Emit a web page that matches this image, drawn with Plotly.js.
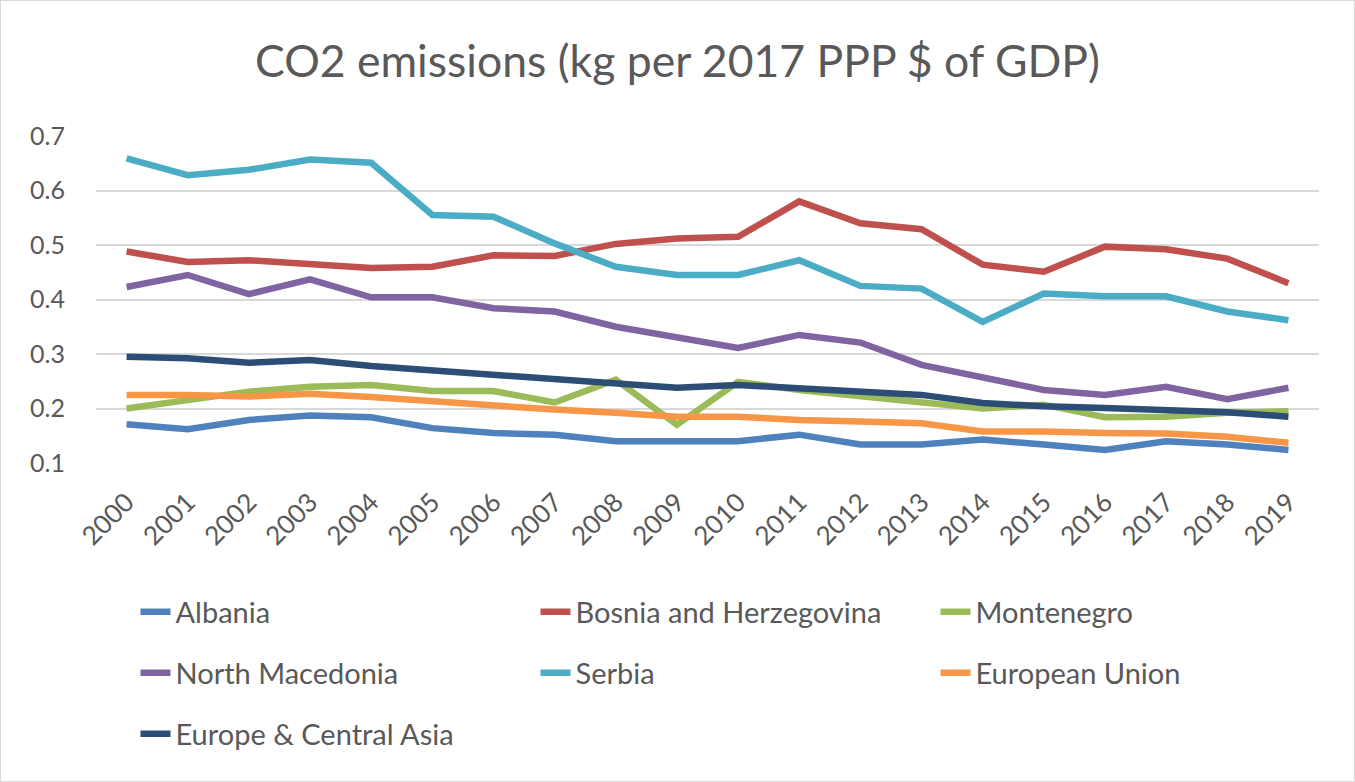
<!DOCTYPE html>
<html>
<head>
<meta charset="utf-8">
<script src="https://cdn.plot.ly/plotly-3.0.1.min.js"></script>
<style>
  body { margin: 0; padding: 0; background: #fff; }
  #wrap { position: relative; width: 1355px; height: 782px; }
  #chart { width: 1355px; height: 782px; }
  #frame { position: absolute; left: 0; top: 0; width: 1355px; height: 782px; box-sizing: border-box; border: 1px solid #d9d9d9; pointer-events: none; }
</style>
</head>
<body>
<div id="wrap"><div id="chart"></div><div id="frame"></div></div>
<script>
const years = ["2000","2001","2002","2003","2004","2005","2006","2007","2008","2009","2010","2011","2012","2013","2014","2015","2016","2017","2018","2019"];

const albania = [0.171,0.162,0.179,0.187,0.184,0.164,0.155,0.152,0.140,0.140,0.140,0.152,0.134,0.134,0.143,0.134,0.124,0.140,0.134,0.124];
const bosnia = [0.488,0.469,0.472,0.466,0.458,0.460,0.481,0.480,0.502,0.512,0.515,0.580,0.540,0.529,0.464,0.451,0.497,0.492,0.475,0.430];
const montenegro = [0.200,0.216,0.231,0.240,0.243,0.232,0.232,0.211,0.253,0.170,0.249,0.234,0.222,0.210,0.200,0.207,0.184,0.185,0.192,0.195];
const northMacedonia = [0.423,0.445,0.410,0.437,0.404,0.404,0.384,0.378,0.350,0.331,0.311,0.335,0.321,0.280,0.256,0.234,0.225,0.240,0.217,0.238];
const serbia = [0.659,0.628,0.638,0.657,0.651,0.555,0.552,0.503,0.460,0.445,0.445,0.472,0.425,0.420,0.359,0.411,0.406,0.406,0.378,0.362];
const europeanUnion = [0.225,0.225,0.222,0.227,0.221,0.213,0.207,0.198,0.192,0.185,0.185,0.179,0.176,0.173,0.158,0.158,0.155,0.154,0.148,0.137];
const europeCentralAsia = [0.295,0.292,0.284,0.289,0.278,0.270,0.262,0.253,0.247,0.238,0.243,0.237,0.231,0.225,0.210,0.204,0.201,0.198,0.193,0.185];

const seriesNames = ["Albania","Bosnia and Herzegovina","Montenegro","North Macedonia","Serbia","European Union","Europe & Central Asia"];
const seriesValues = [albania, bosnia, montenegro, northMacedonia, serbia, europeanUnion, europeCentralAsia];
const seriesColors = ["#4F81BD","#C0504D","#9BBB59","#8064A2","#4BACC6","#F79646","#2C4D75"];
const seriesLegend = ["legend","legend","legend","legend2","legend2","legend2","legend3"];

const FONT = "Lato, 'Open Sans', sans-serif";
const GREY = "#595959";

const traces = seriesNames.map((n, i) => ({
  type: "scatter",
  mode: "lines",
  name: n,
  x: years,
  y: seriesValues[i],
  line: { color: seriesColors[i], width: 6.5 },
  legend: seriesLegend[i],
  hoverinfo: "x+y+name"
}));

const legendBase = {
  orientation: "h",
  xref: "container",
  yref: "container",
  xanchor: "left",
  yanchor: "middle",
  x: 0.1,
  entrywidth: 355,
  entrywidthmode: "pixels",
  font: { family: FONT, size: 29, color: GREY },
  bgcolor: "rgba(0,0,0,0)",
  traceorder: "normal"
};

const layout = {
  width: 1355,
  height: 782,
  paper_bgcolor: "#ffffff",
  plot_bgcolor: "#ffffff",
  margin: { l: 96, r: 36, t: 136, b: 319 },
  title: {
    text: "CO2 emissions (kg per 2017 PPP $ of GDP)",
    font: { family: FONT, size: 44.5, color: GREY },
    x: 0.5, xanchor: "center", xref: "container",
    y: 0.922, yanchor: "middle", yref: "container"
  },
  xaxis: {
    type: "category",
    range: [-0.5, 19.5],
    showgrid: false,
    zeroline: false,
    showline: false,
    ticks: "",
    tickangle: -45,
    ticklabelstandoff: 18,
    tickfont: { family: FONT, size: 26, color: GREY },
    fixedrange: true
  },
  yaxis: {
    range: [0.1, 0.7],
    dtick: 0.1,
    tick0: 0.1,
    tickformat: ".1f",
    showgrid: true,
    gridcolor: "#d9d9d9",
    gridwidth: 2,
    zeroline: false,
    showline: false,
    ticks: "",
    ticklabelstandoff: 30,
    tickfont: { family: FONT, size: 25, color: GREY },
    fixedrange: true
  },
  legend: Object.assign({}, legendBase, { y: 0.2174 }),
  legend2: Object.assign({}, legendBase, { y: 0.1394 }),
  legend3: Object.assign({}, legendBase, { y: 0.0614 }),
  showlegend: true
};

Plotly.newPlot("chart", traces, layout, { displayModeBar: false });
</script>
</body>
</html>
